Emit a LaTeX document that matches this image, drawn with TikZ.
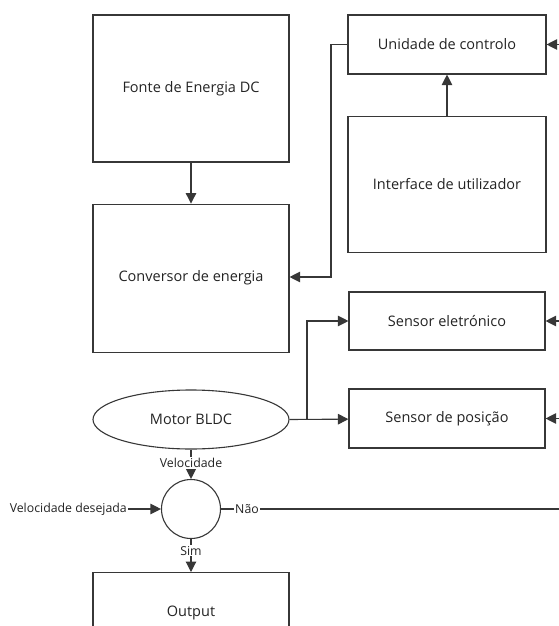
\documentclass[tikz,border=0pt]{standalone}
\usepackage{fontspec}
\setmainfont{Open Sans}
\usepackage{tikz}
\usetikzlibrary{positioning}
\usetikzlibrary{shapes,arrows.meta}
\definecolor{traco}{RGB}{55,55,55}
\definecolor{texto}{RGB}{35,35,35}

\begin{document}
\begin{tikzpicture}[x=1pt, y=1pt,
			bloco/.style = {
				draw = traco, line width=1.1pt, minimum width=196pt,
				text = texto, font=\fontsize{14.5}{17}\selectfont
			},
			rotulo/.style = {
				text = texto, inner sep=1pt, font=\fontsize{12.3}{14}\selectfont
			},
			linha/.style = {
				draw = traco, line width=1.1pt
			},
			seta/.style = {
				linha, -{Triangle[length=10.5pt, width=10.5pt]}
			},
			ponta/.style = {
				line width=1.1pt, -{Triangle[length=10.5pt, width=10.5pt]},
				every edge/.append style={draw = traco}
			}]
			\useasboundingbox (0,0) rectangle (558,-626);
			% coluna esquerda
			\node (fonte) [bloco, minimum height=147pt] at (191,-88.5) {Fonte de Energia DC};
			\node (conversor) [bloco, minimum height=148pt, below = 41pt of fonte] {Conversor de energia};
			\node (motor) [bloco, ellipse, minimum height=59pt] at (191,-419.5) {Motor BLDC};
			\node (comp) [linha, circle, minimum size=59pt] at (191,-509) {};
			\node (output) [bloco, minimum height=80pt, anchor=north] at (191,-572) {Output};
			% coluna direita
			\node (unidade) [bloco, minimum width=198pt, minimum height=59pt] at (447,-44.5) {Unidade de controlo};
			\node (interface) [bloco, minimum width=198pt, minimum height=136pt, below = 41pt of unidade] {Interface de utilizador};
			\node (sensorel) [bloco, minimum height=58pt] at (447,-321) {Sensor eletrónico};
			\node (sensorpos) [bloco, minimum height=59pt] at (447,-418.5) {Sensor de posição};
			% rotulos soltos
			\node (vdes) [rotulo, anchor=east] at (128,-509) {Velocidade desejada};
			\node (nao) [rotulo] at (247,-509) {Não};
			\coordinate (fimnao) at (570,-509);
			\coordinate (entuni) at (570,-44.5);
			\coordinate (entsel) at (570,-321);
			\coordinate (entspos) at (570,-418.5);
			\coordinate (ramo) at (307,-419.5);
			\coordinate (desvio) at (331,-277);
			\path [ponta]
			(fonte) edge (conversor)
			(interface) edge (unidade)
			(entuni) edge (unidade)
			(entsel) edge (sensorel)
			(entspos) edge (sensorpos)
			(vdes) edge (comp)
			(motor) edge node[rotulo, fill=white, pos=0.45] {Velocidade} (comp)
			(comp) edge node[rotulo, fill=white, pos=0.35] {Sim} (output)
			(motor.east) edge (sensorpos);
			\draw [seta] (unidade.west) -| (desvio) -- (conversor.east |- desvio);
			\draw [seta] (ramo) |- (sensorel.west);
			\draw [linha] (comp) -- (nao);
			\draw [linha, line width=1.7pt] (nao) -- (fimnao);
		\end{tikzpicture}
\end{document}
